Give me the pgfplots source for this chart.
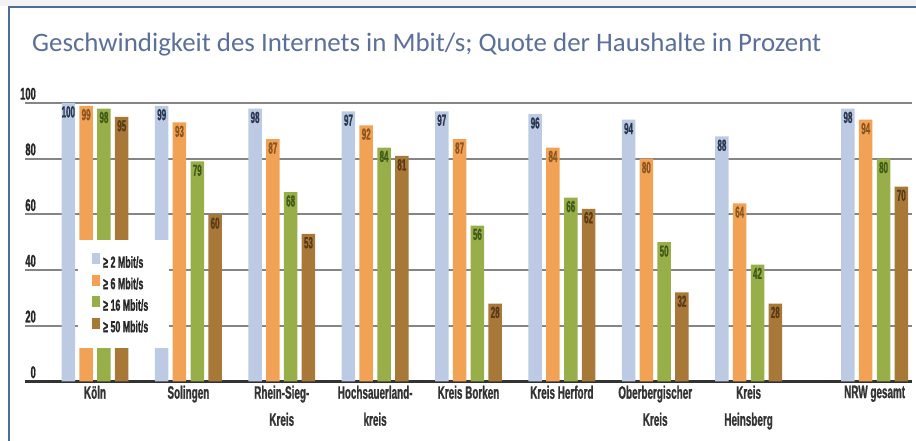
\documentclass[border=0pt]{standalone}
\usepackage{pgfplots}
\pgfplotsset{compat=1.18}
\usepackage{pgfplotstable}
\usepackage{fontspec}
\setmainfont{Liberation Sans}
\newfontfamily\titlefont{Carlito}
\newfontfamily\valfont[FakeStretch=0.5, FakeBold=1, WordSpace=0.7]{Liberation Sans Bold}
\newfontfamily\catfont[FakeStretch=0.55, FakeBold=1, WordSpace=0.8]{Liberation Sans Bold}
\newfontfamily\tickfont[FakeStretch=0.55, FakeBold=1, WordSpace=0.7]{Liberation Sans Bold}
\newfontfamily\legfont[FakeStretch=0.55, FakeBold=1]{Liberation Sans Bold}
\definecolor{cblue}{HTML}{BCCBE3}
\definecolor{corange}{HTML}{F2A255}
\definecolor{cgreen}{HTML}{98AE48}
\definecolor{cbrown}{HTML}{A87838}
\definecolor{lblue}{HTML}{2A3550}
\definecolor{lorange}{HTML}{8A5420}
\definecolor{lgreen}{HTML}{3F5A18}
\definecolor{lbrown}{HTML}{5A3A15}
\definecolor{titlecol}{HTML}{5B6F9B}
\definecolor{framecol}{HTML}{4D6C97}
\definecolor{gridcol}{HTML}{858585}
\definecolor{axiscol}{HTML}{333333}
\definecolor{topgray}{HTML}{F3F3F3}
\newcommand{\gs}{\hspace{2.5pt}}

\pgfplotstableread{
x    a   b   c   d
0    100 99  98  95
1    99  93  79  60
2    98  87  68  53
3    97  92  84  81
4    97  87  56  28
5    96  84  66  62
6    94  80  50  32
7    88  64  42  28
8.35 98  94  80  70
}\datatable

\begin{document}
\begin{tikzpicture}[x=1pt,y=1pt]
\useasboundingbox (0,0) rectangle (916,441);
\fill[white] (0,0) rectangle (916,441);
\fill[topgray] (0,435) rectangle (916,441);
\draw[framecol, line width=2pt] (8.5,0) -- (8.5,434) -- (916,434);
\node[anchor=base west, inner sep=0pt, text=titlecol] at (32,389)
  {\resizebox{789pt}{18.5pt}{\titlefont Geschwindigkeit des Internets in Mbit/s; Quote der Haushalte in Prozent}};
\begin{axis}[
  at={(25pt,59.5pt)}, anchor=south west,
  scale only axis, width=887pt, height=278.5pt,
  xmin=-0.75, xmax=8.75, ymin=0, ymax=100,
  clip=false,
  axis line style={draw=none},
  major tick length=0pt,
  ybar=4.3pt, bar width=13.5pt,
  ytick={20,40,60,80,100},
  extra y ticks={0},
  extra y tick style={major grid style={line width=3pt, draw=axiscol}},
  ymajorgrids, major grid style={line width=1.8pt, draw=gridcol},
  /pgf/number format/assume math mode=true,
  yticklabel style={anchor=south east, inner sep=1pt, xshift=12pt, yshift=2pt,
    font=\tickfont\fontsize{17}{17}\selectfont, text=black!85},
  xtick={0,1,2,3,4,5,6,7,8.35},
  xticklabels={K\"oln, Solingen, {Rhein-Sieg-\\Kreis}, {Hochsauerland-\\kreis}, Kreis Borken, Kreis Herford, {Oberbergischer\\Kreis}, {Kreis\\Heinsberg}, NRW gesamt},
  xticklabel style={anchor=north, align=center, inner sep=1pt, yshift=-3pt,
    font=\catfont\fontsize{18}{27}\selectfont, text=black!80},
  nodes near coords,
  nodes near coords align={anchor=north},
  every node near coord/.append style={anchor=north, inner sep=1pt, yshift=-2pt,
    font=\valfont\fontsize{16}{16}\selectfont},
  legend style={at={(axis cs:-0.182,50.8)}, anchor=north west, fill=white, draw=none,
    inner xsep=14pt, inner ysep=13pt, row sep=4pt,
    font=\legfont\fontsize{16}{16}\selectfont, text=black!85,
    nodes={inner sep=0pt, text height=12pt, text depth=3pt},
    /tikz/every odd column/.append style={column sep=3pt},
    /tikz/every even column/.append style={text width=52pt}},
  legend cell align=left,
  legend image code/.code={\fill[#1] (0pt,-1pt) rectangle (8pt,10pt);},
]
\addplot[fill=cblue, draw=none, every node near coord/.append style={text=lblue}] table[x=x,y=a]{\datatable};
\addplot[fill=corange, draw=none, every node near coord/.append style={text=lorange}] table[x=x,y=b]{\datatable};
\addplot[fill=cgreen, draw=none, every node near coord/.append style={text=lgreen}] table[x=x,y=c]{\datatable};
\addplot[fill=cbrown, draw=none, every node near coord/.append style={text=lbrown}] table[x=x,y=d]{\datatable};
\legend{≥\gs2\gs Mbit/s, ≥\gs6\gs Mbit/s, ≥\gs16\gs Mbit/s, ≥\gs50\gs Mbit/s}
\end{axis}
\end{tikzpicture}
\end{document}
